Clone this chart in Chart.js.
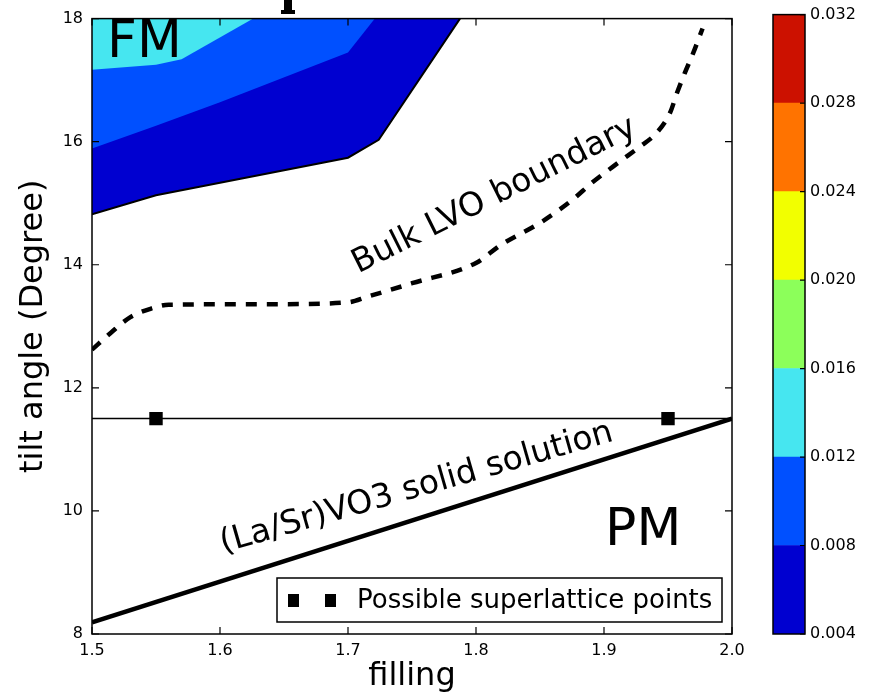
<!DOCTYPE html>
<html>
<head>
<meta charset="utf-8">
<script src="https://cdn.jsdelivr.net/npm/chart.js@4.4.1/dist/chart.umd.min.js"></script>
<style>
  body { margin: 0; background: #fff; }
  #wrap { position: relative; width: 887px; height: 696px; }
  canvas { position: absolute; top: 0; }
  #myChart { left: 0; }
  #cbar { left: 760px; }
</style>
</head>
<body>
<div id="wrap">
  <canvas id="myChart" width="760" height="696"></canvas>
  <canvas id="cbar" width="127" height="696"></canvas>
</div>
<script>
// axis ticks
const fillingTicks = [1.5, 1.6, 1.7, 1.8, 1.9, 2.0]
const tiltTicks = [8, 10, 12, 14, 16, 18]

// contour boundaries (filled up to the top of the plot)
const level004X = [1.5, 1.55, 1.70, 1.724, 1.7875]
const level004Y = [14.82, 15.13, 15.74, 16.03, 18.0]
const level008X = [1.5, 1.55, 1.6, 1.70, 1.721]
const level008Y = [15.89, 16.26, 16.64, 17.45, 18.0]
const level012X = [1.5, 1.55, 1.57, 1.626]
const level012Y = [17.17, 17.25, 17.34, 18.0]

// bulk LVO boundary (dashed)
const bulkX = [1.5, 1.515, 1.53, 1.545, 1.56, 1.65, 1.70, 1.715, 1.75, 1.80, 1.82, 1.85, 1.875, 1.891, 1.9125, 1.928, 1.941, 1.9516, 1.957, 1.963, 1.9695, 1.977]
const bulkY = [12.62, 12.9, 13.15, 13.28, 13.35, 13.36, 13.39, 13.48, 13.7, 14.03, 14.33, 14.68, 15.05, 15.34, 15.68, 15.92, 16.14, 16.47, 16.79, 17.11, 17.43, 17.84]

// (La/Sr)VO3 solid solution
const solidX = [1.5, 2.0]
const solidY = [8.19, 11.5]

// superlattice line and points
const superLineX = [1.5, 2.0]
const superLineY = [11.5, 11.5]
const superX = [1.55, 1.95]
const superY = [11.5, 11.5]

// colorbar
const levels = [0.004, 0.008, 0.012, 0.016, 0.020, 0.024, 0.028, 0.032]
const levelColors = ['#0000d0', '#0050ff', '#46e6f0', '#8cff5a', '#f2ff00', '#ff7300', '#cc1100']

Chart.defaults.font.family = 'DejaVu Sans'
Chart.defaults.color = '#000'

function pts(xs, ys) {
    return xs.map(function(x, i){ return {x: x, y: ys[i]} })
}

const decorations = {
    id: 'decorations',
    afterDraw: function(chart) {
        const ctx = chart.ctx
        const a = chart.chartArea
        const xs = chart.scales.x, ys = chart.scales.y
        ctx.save()
        ctx.strokeStyle = '#000'
        ctx.lineWidth = 1.5
        ctx.strokeRect(a.left, a.top, a.right - a.left, a.bottom - a.top)
        ctx.lineWidth = 1.2
        ctx.beginPath()
        fillingTicks.forEach(function(v){
            const px = xs.getPixelForValue(v)
            ctx.moveTo(px, a.bottom); ctx.lineTo(px, a.bottom - 7)
            ctx.moveTo(px, a.top); ctx.lineTo(px, a.top + 7)
        })
        tiltTicks.forEach(function(v){
            const py = ys.getPixelForValue(v)
            ctx.moveTo(a.left, py); ctx.lineTo(a.left + 7, py)
            ctx.moveTo(a.right, py); ctx.lineTo(a.right - 7, py)
        })
        ctx.stroke()

        // region labels
        ctx.fillStyle = '#000'
        ctx.textAlign = 'left'
        ctx.textBaseline = 'alphabetic'
        ctx.font = '52px "DejaVu Sans"'
        ctx.fillText('FM', xs.getPixelForValue(1.5117), ys.getPixelForValue(17.38))
        ctx.fillText('PM', xs.getPixelForValue(1.9008), ys.getPixelForValue(9.44))

        ctx.font = '33px "DejaVu Sans"'
        ctx.save()
        ctx.translate(xs.getPixelForValue(1.708), ys.getPixelForValue(13.86))
        ctx.rotate(-26.5 * Math.PI / 180)
        ctx.fillText('Bulk LVO boundary', 0, 0)
        ctx.restore()

        ctx.save()
        ctx.translate(xs.getPixelForValue(1.6025), ys.getPixelForValue(9.32))
        ctx.rotate(-16 * Math.PI / 180)
        ctx.fillText('(La/Sr)VO3 solid solution', 0, 0)
        ctx.restore()

        // legend box
        const bx = a.right - 455, by = a.bottom - 56, bw = 445, bh = 44
        ctx.fillStyle = '#fff'
        ctx.fillRect(bx, by, bw, bh)
        ctx.lineWidth = 1.5
        ctx.strokeRect(bx, by, bw, bh)
        ctx.fillStyle = '#000'
        ctx.fillRect(bx + 11, by + 16, 11, 13)
        ctx.fillRect(bx + 48, by + 16, 11, 13)
        ctx.font = '26px "DejaVu Sans"'
        ctx.textBaseline = 'middle'
        ctx.fillText('Possible superlattice points', bx + 80, by + bh / 2 + 1)

        // clipped fragment of a title above the plot
        ctx.fillRect(284, 0, 8, 12)
        ctx.fillRect(281, 10, 14, 4)
        ctx.restore()
    }
}

const config = {
    type: 'line',
    data: {
        datasets: [
            {
                label: 'solid solution',
                data: pts(solidX, solidY),
                borderColor: '#000',
                borderWidth: 4.5,
                pointRadius: 0,
                fill: false,
                order: 1
            },
            {
                label: 'Possible superlattice points',
                data: pts(superX, superY),
                showLine: false,
                pointStyle: 'rect',
                pointRadius: 9.5,
                backgroundColor: '#000',
                borderColor: '#000',
                borderWidth: 0,
                order: 0
            },
            {
                label: 'superlattice line',
                data: pts(superLineX, superLineY),
                borderColor: '#000',
                borderWidth: 1.5,
                pointRadius: 0,
                fill: false,
                order: 2
            },
            {
                label: 'Bulk LVO boundary',
                data: pts(bulkX, bulkY),
                borderColor: '#000',
                borderWidth: 4.5,
                borderDash: [11, 10],
                cubicInterpolationMode: 'monotone',
                pointRadius: 0,
                fill: false,
                order: 3
            },
            {
                label: '0.012',
                data: pts(level012X, level012Y),
                borderWidth: 0,
                backgroundColor: levelColors[2],
                pointRadius: 0,
                fill: 'end',
                order: 8
            },
            {
                label: '0.008',
                data: pts(level008X, level008Y),
                borderWidth: 0,
                backgroundColor: levelColors[1],
                pointRadius: 0,
                fill: 'end',
                order: 9
            },
            {
                label: '0.004',
                data: pts(level004X, level004Y),
                borderColor: '#000',
                borderWidth: 2,
                backgroundColor: levelColors[0],
                pointRadius: 0,
                fill: 'end',
                order: 10
            }
        ]
    },
    options: {
        responsive: false,
        animation: false,
        devicePixelRatio: 1,
        layout: { padding: { top: 15, right: 28, left: 0, bottom: 0 } },
        plugins: { legend: { display: false }, tooltip: { enabled: false } },
        scales: {
            x: {
                type: 'linear',
                min: 1.5, max: 2.0,
                afterBuildTicks: function(s){ s.ticks = fillingTicks.map(function(v){ return {value: v} }) },
                afterFit: function(s){ s.height = 62 },
                ticks: {
                    font: { size: 16 }, color: '#000', padding: 7,
                    autoSkip: false, maxRotation: 0,
                    callback: function(v){ return v.toFixed(1) }
                },
                grid: { display: false, drawTicks: false },
                border: { display: false },
                title: { display: true, text: 'filling', font: { size: 32 }, color: '#000', padding: { top: 0, bottom: 0 } }
            },
            y: {
                type: 'linear',
                min: 8, max: 18,
                afterBuildTicks: function(s){ s.ticks = tiltTicks.map(function(v){ return {value: v} }) },
                afterFit: function(s){ s.width = 92 },
                ticks: {
                    font: { size: 16 }, color: '#000', padding: 9, autoSkip: false
                },
                grid: { display: false, drawTicks: false },
                border: { display: false },
                title: { display: true, text: 'tilt angle (Degree)', font: { size: 32 }, color: '#000', padding: { top: 14, bottom: 0 } }
            }
        }
    },
    plugins: [decorations]
}

const myChart = new Chart(document.getElementById('myChart'), config)

// colorbar
const cbarFrame = {
    id: 'cbarFrame',
    afterDraw: function(chart) {
        const ctx = chart.ctx
        const a = chart.chartArea
        const ys = chart.scales.y
        ctx.save()
        ctx.strokeStyle = '#000'
        ctx.lineWidth = 1.5
        ctx.strokeRect(a.left, a.top, a.right - a.left, a.bottom - a.top)
        ctx.lineWidth = 1.2
        ctx.beginPath()
        levels.forEach(function(v){
            const py = ys.getPixelForValue(v)
            ctx.moveTo(a.right, py); ctx.lineTo(a.right - 5, py)
        })
        ctx.stroke()
        ctx.restore()
    }
}

const cbar = new Chart(document.getElementById('cbar'), {
    type: 'bar',
    data: {
        labels: [''],
        datasets: levelColors.map(function(c, i){
            return {
                data: [[levels[i], levels[i + 1]]],
                backgroundColor: c,
                borderWidth: 0,
                barPercentage: 1,
                categoryPercentage: 1,
                grouped: false
            }
        })
    },
    options: {
        responsive: false,
        animation: false,
        devicePixelRatio: 1,
        layout: { padding: { top: 14, bottom: 62, left: 13, right: 0 } },
        plugins: { legend: { display: false }, tooltip: { enabled: false } },
        scales: {
            x: { display: false },
            y: {
                position: 'right',
                min: 0.004, max: 0.032,
                afterBuildTicks: function(s){ s.ticks = levels.map(function(v){ return {value: v} }) },
                afterFit: function(s){ s.width = 82 },
                ticks: {
                    font: { size: 16 }, color: '#000', padding: 5, autoSkip: false,
                    callback: function(v){ return v.toFixed(3) }
                },
                grid: { display: false, drawTicks: false },
                border: { display: false }
            }
        }
    },
    plugins: [cbarFrame]
})
</script>
</body>
</html>
